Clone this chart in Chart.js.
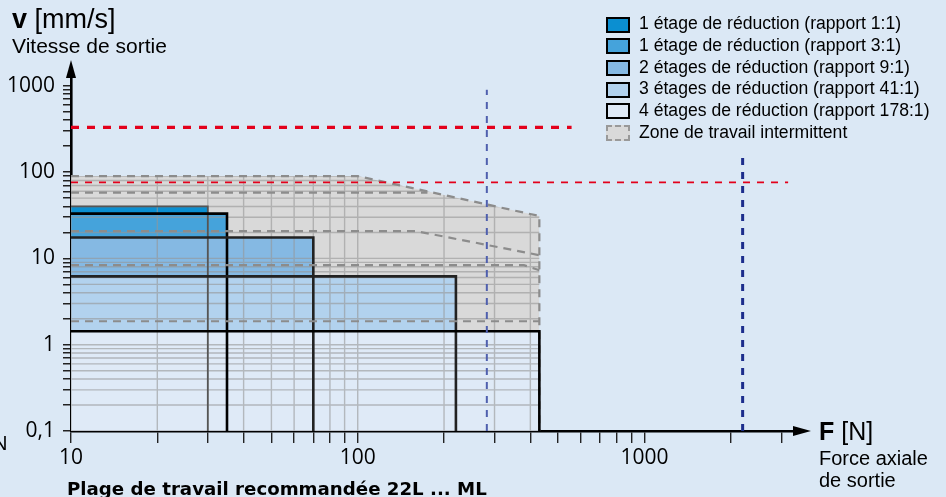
<!DOCTYPE html>
<html>
<head>
<meta charset="utf-8">
<script src="https://cdn.jsdelivr.net/npm/chart.js@4"></script>
<style>
  body { margin: 0; background: #dbe8f5; font-family: 'Liberation Sans', Arial, sans-serif; }
  #wrap { position: relative; width: 946px; height: 497px; overflow: hidden; }
  #chart { position: absolute; left: 0; top: 0; }
  .t { position: absolute; line-height: 1; white-space: nowrap; color: #000; }
  .box { position: absolute; width: 24px; height: 16px; box-sizing: border-box; border: 2px solid #000; }
</style>
</head>
<body>
<div id="wrap">
  <canvas id="chart" width="946" height="497"></canvas>
  <div class="t" style="left:12px;top:5.5px;font-size:27px;"><b>v</b> [mm/s]</div>
  <div class="t" style="left:12px;top:34.9px;font-size:21px;">Vitesse de sortie</div>
  <div class="t" style="left:819px;top:418.8px;font-size:25px;"><b>F</b> [N]</div>
  <div class="t" style="left:819px;top:448px;font-size:20px;">Force axiale</div>
  <div class="t" style="left:819px;top:470px;font-size:20px;">de sortie</div>
  <div class="t" style="left:67px;top:479.8px;font-size:18.2px;font-weight:700;font-family:'DejaVu Sans',sans-serif;">Plage de travail recommandée 22L ... ML</div>
  <div class="t" style="left:-7px;top:433px;font-size:20px;">N</div>
  <div id="legend"></div>
</div>
<script>
// axis range
const xMin = 10, xMax = 3350;
const yMin = 0.1, yMax = 1300;

// tick marks and labels
const xTicks = [10, 20, 30, 40, 50, 60, 70, 80, 90, 100, 200, 300, 400, 500, 600, 700, 800, 900, 1000, 2000, 3000];
const xMajor = [10, 100, 1000];
const xMajorLabels = ['10', '100', '1000'];
const yTicks = [0.1, 0.2, 0.3, 0.4, 0.5, 0.6, 0.7, 0.8, 0.9, 1, 2, 3, 4, 5, 6, 7, 8, 9,
  10, 20, 30, 40, 50, 60, 70, 80, 90, 100, 200, 300, 400, 500, 600, 700, 800, 900, 1000];
const yMajor = [0.1, 1, 10, 100, 1000];
const yMajorLabels = ['0,1', '1', '10', '100', '1000'];

// continuous working areas per reduction ratio (max force N, max speed mm/s)
const ratioLabels = [
  '1 étage de réduction (rapport 1:1)',
  '1 étage de réduction (rapport 3:1)',
  '2 étages de réduction (rapport 9:1)',
  '3 étages de réduction (rapport 41:1)',
  '4 étages de réduction (rapport 178:1)'
];
const ratioMaxForce = [30, 35, 70, 220, 430];
const ratioMaxSpeed = [40, 33, 17.5, 6.2, 1.43];
const ratioFill = ['#0b8fd1', '#45a3db', '#85b9e3', '#b2d2ee', '#dfeaf7'];
const ratioBorder = ['#555555', '#000000', '#222222', '#222222', '#000000'];

// intermittent zone outline
const zoneLabel = 'Zone de travail intermittent';
const zoneForce = [10, 100, 430, 430];
const zoneSpeed = [90, 90, 31, 0.1];

// intermittent limits inside the zone
const limForce = [[10, 175], [10, 160, 430], [10, 380, 430], [10, 430]];
const limSpeed = [[58, 58], [20.7, 20.7, 10.9], [8.35, 8.35, 7.3], [1.87, 1.87]];

// red speed limits
const redForce = [[10, 557], [10, 3170]];
const redSpeed = [[330, 330], [76, 76]];
// blue force limits
const blueForce = [282, 2200];
const blueSpeed = [900, 166];

const pts = (xs, ys) => xs.map((x, i) => ({ x: x, y: ys[i] }));

const datasets = [];
ratioLabels.forEach((name, i) => {
  datasets.push({
    label: name,
    data: pts([xMin, ratioMaxForce[i], ratioMaxForce[i]], [ratioMaxSpeed[i], ratioMaxSpeed[i], yMin]),
    fill: 'start',
    backgroundColor: ratioFill[i],
    borderColor: ratioBorder[i],
    borderWidth: i === 0 ? 1.8 : 2.6,
    order: 4 - i
  });
});
datasets.push({
  label: zoneLabel,
  data: pts(zoneForce, zoneSpeed),
  fill: 'start',
  backgroundColor: '#d9d9d9',
  borderColor: '#8c8c8c',
  borderWidth: 2.2,
  borderDash: [8, 6],
  order: 5
});
limForce.forEach((f, i) => {
  datasets.push({
    data: pts(f, limSpeed[i]),
    borderColor: '#8c8c8c',
    borderWidth: 2.2,
    borderDash: [8, 6],
    order: -1
  });
});
redForce.forEach((f, i) => {
  datasets.push({
    data: pts(f, redSpeed[i]),
    borderColor: '#e3001b',
    borderWidth: i === 0 ? 3.2 : 1.8,
    borderDash: i === 0 ? [8, 8] : [7, 7],
    order: -2
  });
});
blueForce.forEach((f, i) => {
  datasets.push({
    data: pts([f, f], [yMin, blueSpeed[i]]),
    borderColor: i === 0 ? '#4f5fae' : '#1c2d8c',
    borderWidth: i === 0 ? 2 : 3,
    borderDash: [7, 7],
    order: -3
  });
});

// grid only inside the working zone, drawn over the fills
const zoneGrid = {
  id: 'zoneGrid',
  beforeDatasetsDraw(chart) {
    const { ctx, chartArea, scales: { x, y } } = chart;
    ctx.save();
    ctx.beginPath();
    ctx.moveTo(x.getPixelForValue(zoneForce[0]), y.getPixelForValue(yMin));
    zoneForce.forEach((f, i) => ctx.lineTo(x.getPixelForValue(f), y.getPixelForValue(zoneSpeed[i])));
    ctx.closePath();
    ctx.clip();
    ctx.strokeStyle = 'rgba(150,150,150,0.6)';
    ctx.lineWidth = 1.4;
    ctx.beginPath();
    xTicks.forEach(v => {
      const px = x.getPixelForValue(v);
      ctx.moveTo(px, chartArea.top);
      ctx.lineTo(px, chartArea.bottom);
    });
    yTicks.forEach(v => {
      const py = y.getPixelForValue(v);
      ctx.moveTo(chartArea.left, py);
      ctx.lineTo(chartArea.right, py);
    });
    ctx.stroke();
    ctx.restore();
  }
};

const arrows = {
  id: 'arrows',
  afterDraw(chart) {
    const { ctx, chartArea } = chart;
    ctx.save();
    ctx.fillStyle = '#000';
    ctx.beginPath();
    ctx.moveTo(chartArea.left, chartArea.top - 16);
    ctx.lineTo(chartArea.left - 5, chartArea.top + 2);
    ctx.lineTo(chartArea.left + 5, chartArea.top + 2);
    ctx.closePath();
    ctx.fill();
    ctx.beginPath();
    ctx.moveTo(chartArea.right + 16, chartArea.bottom);
    ctx.lineTo(chartArea.right - 2, chartArea.bottom - 5);
    ctx.lineTo(chartArea.right - 2, chartArea.bottom + 5);
    ctx.closePath();
    ctx.fill();
    ctx.restore();
  }
};

const tickFont = { family: 'Open Sans', size: 21 };

new Chart(document.getElementById('chart'), {
  type: 'line',
  data: { datasets: datasets },
  options: {
    responsive: false,
    animation: false,
    events: [],
    layout: { padding: { left: 0, top: 76, right: 151, bottom: 0 } },
    elements: { point: { radius: 0 }, line: { tension: 0, borderJoinStyle: 'miter' } },
    plugins: {
      legend: { display: false },
      tooltip: { enabled: false },
      filler: { drawTime: 'beforeDatasetsDraw' }
    },
    scales: {
      x: {
        type: 'logarithmic',
        min: xMin,
        max: xMax,
        afterBuildTicks: s => { s.ticks = xTicks.map(v => ({ value: v })); },
        afterFit: s => { s.height = 66; },
        ticks: {
          autoSkip: false,
          maxRotation: 0,
          minRotation: 0,
          padding: 2,
          color: '#000',
          font: tickFont,
          callback: v => { const i = xMajor.indexOf(v); return i < 0 ? '' : xMajorLabels[i]; }
        },
        grid: { drawOnChartArea: false, drawTicks: true, tickLength: 12, color: '#222', lineWidth: 1.4 },
        border: { display: true, color: '#000', width: 2.6 }
      },
      y: {
        type: 'logarithmic',
        min: yMin,
        max: yMax,
        afterBuildTicks: s => { s.ticks = yTicks.map(v => ({ value: v })); },
        afterFit: s => { s.width = 71; },
        ticks: {
          autoSkip: false,
          padding: 8,
          color: '#000',
          font: tickFont,
          callback: v => { const i = yMajor.indexOf(v); return i < 0 ? '' : yMajorLabels[i]; }
        },
        grid: { drawOnChartArea: false, drawTicks: true, tickLength: 8, color: '#222', lineWidth: 1.5 },
        border: { display: true, color: '#000', width: 2.6 }
      }
    }
  },
  plugins: [zoneGrid, arrows]
});

// legend
const legend = document.getElementById('legend');
ratioLabels.concat([zoneLabel]).forEach((name, i) => {
  const top = 16.5 + i * 21.7;
  const box = document.createElement('div');
  box.className = 'box';
  box.style.left = '606px';
  box.style.top = top + 'px';
  if (i < ratioFill.length) {
    box.style.background = ratioFill[i];
  } else {
    box.style.background = '#d9d9d9';
    box.style.border = '2px dashed #999';
  }
  legend.appendChild(box);
  const txt = document.createElement('div');
  txt.className = 't';
  txt.style.left = '639px';
  txt.style.top = (top - 1.2) + 'px';
  txt.style.fontSize = '17.6px';
  txt.textContent = name;
  legend.appendChild(txt);
});
</script>
</body>
</html>
